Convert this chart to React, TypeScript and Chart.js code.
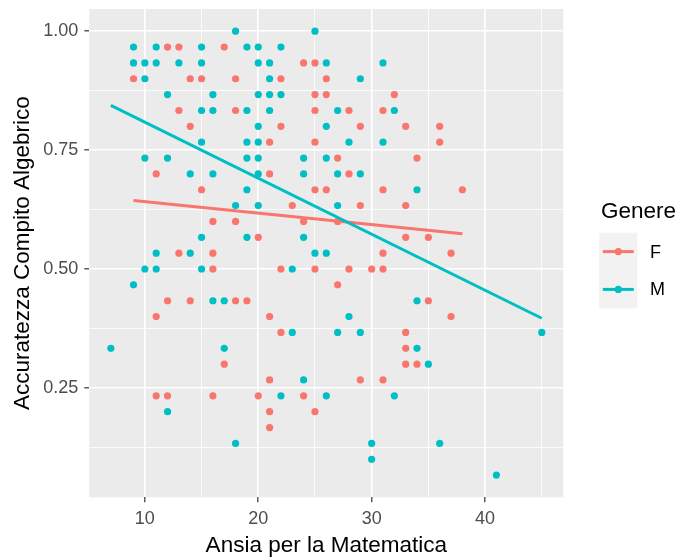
import React, { useEffect, useRef } from "react";
import { Chart, registerables } from "chart.js";
Chart.register(...registerables);

// Ansia per la Matematica (x) and Accuratezza Compito Algebrico (y), gruppo F
const F_ANSIA = [
  12, 13, 17,
  24, 25,
  9, 14, 15, 18, 22, 26,
  25, 26, 32,
  13, 18, 25, 28, 31,
  14, 22, 29, 33, 36,
  21, 25, 36,
  27, 34,
  11, 21, 28,
  15, 25, 26, 31, 38,
  23, 29, 33,
  16, 18, 24, 27,
  20, 33, 35,
  13, 16, 31, 37,
  16, 22, 25, 28, 30, 31,
  27,
  12, 14, 18, 19, 35,
  11, 21, 37,
  22, 33,
  33,
  17, 33, 34,
  21, 29, 31,
  11, 12, 16, 20, 24,
  21, 25,
  21,
];
const F_ACC = [
  0.9667, 0.9667, 0.9667,
  0.9333, 0.9333,
  0.9, 0.9, 0.9, 0.9, 0.9, 0.9,
  0.8667, 0.8667, 0.8667,
  0.8333, 0.8333, 0.8333, 0.8333, 0.8333,
  0.8, 0.8, 0.8, 0.8, 0.8,
  0.7667, 0.7667, 0.7667,
  0.7333, 0.7333,
  0.7, 0.7, 0.7,
  0.6667, 0.6667, 0.6667, 0.6667, 0.6667,
  0.6333, 0.6333, 0.6333,
  0.6, 0.6, 0.6, 0.6,
  0.5667, 0.5667, 0.5667,
  0.5333, 0.5333, 0.5333, 0.5333,
  0.5, 0.5, 0.5, 0.5, 0.5, 0.5,
  0.4667,
  0.4333, 0.4333, 0.4333, 0.4333, 0.4333,
  0.4, 0.4, 0.4,
  0.3667, 0.3667,
  0.3333,
  0.3, 0.3, 0.3,
  0.2667, 0.2667, 0.2667,
  0.2333, 0.2333, 0.2333, 0.2333, 0.2333,
  0.2, 0.2,
  0.1667,
];

// gruppo M
const M_ANSIA = [
  18, 25,
  9, 11, 15, 19, 20, 22,
  9, 10, 11, 13, 15, 20, 21, 26, 31,
  10, 21, 29,
  12, 16, 20, 21, 22,
  15, 16, 19, 21, 27, 32,
  20, 26,
  15, 19, 20, 28, 31,
  10, 12, 19, 20, 24, 26,
  14, 16, 20, 24, 27, 29,
  19, 34,
  18, 20, 27,
  15, 19, 24,
  11, 14, 25, 26,
  10, 11, 15, 23,
  9,
  16, 17, 34,
  28,
  23, 27, 29, 45,
  7, 17, 34,
  35,
  24,
  22, 26, 32,
  12,
  18, 30, 36,
  30,
  41,
];
const M_ACC = [
  1.0, 1.0,
  0.9667, 0.9667, 0.9667, 0.9667, 0.9667, 0.9667,
  0.9333, 0.9333, 0.9333, 0.9333, 0.9333, 0.9333, 0.9333, 0.9333, 0.9333,
  0.9, 0.9, 0.9,
  0.8667, 0.8667, 0.8667, 0.8667, 0.8667,
  0.8333, 0.8333, 0.8333, 0.8333, 0.8333, 0.8333,
  0.8, 0.8,
  0.7667, 0.7667, 0.7667, 0.7667, 0.7667,
  0.7333, 0.7333, 0.7333, 0.7333, 0.7333, 0.7333,
  0.7, 0.7, 0.7, 0.7, 0.7, 0.7,
  0.6667, 0.6667,
  0.6333, 0.6333, 0.6333,
  0.5667, 0.5667, 0.5667,
  0.5333, 0.5333, 0.5333, 0.5333,
  0.5, 0.5, 0.5, 0.5,
  0.4667,
  0.4333, 0.4333, 0.4333,
  0.4,
  0.3667, 0.3667, 0.3667, 0.3667,
  0.3333, 0.3333, 0.3333,
  0.3,
  0.2667,
  0.2333, 0.2333, 0.2333,
  0.2,
  0.1333, 0.1333, 0.1333,
  0.1,
  0.0667,
];

// linear-fit lines (geom_smooth, method = "lm"), endpoints
const F_FIT_X = [9, 38];
const F_FIT_Y = [0.644, 0.574];
const M_FIT_X = [7, 45];
const M_FIT_Y = [0.844, 0.3965];

const GROUPS = ["F", "M"];
const COLORS = ["#F8766D", "#00BFC4"];
const X_MAJOR = [10, 20, 30, 40];
const X_MINOR = [15, 25, 35, 45];
const Y_MAJOR = [0.25, 0.5, 0.75, 1.0];
const Y_MINOR = [0.125, 0.375, 0.625, 0.875];

const X_TITLE = "Ansia per la Matematica";
const Y_TITLE = "Accuratezza Compito Algebrico";
const LEGEND_TITLE = "Genere";

const FONT = "'Liberation Sans', Arial, sans-serif";

function toPoints(xs: number[], ys: number[]) {
  return xs.map((x, i) => ({ x, y: ys[i] }));
}

const PANEL = { left: 89.3, right: 563.3, top: 9, bottom: 497.3 };
const W = 681;
const H = 560;

const panelBg = {
  id: "panelBg",
  beforeDraw(chart: any) {
    const { ctx, chartArea: a } = chart;
    ctx.save();
    ctx.fillStyle = "#EBEBEB";
    ctx.fillRect(a.left, a.top, a.right - a.left, a.bottom - a.top);
    ctx.restore();
  },
};

const ggLegend = {
  id: "ggLegend",
  afterDraw(chart: any) {
    const { ctx } = chart;
    ctx.save();
    ctx.fillStyle = "#000000";
    ctx.textAlign = "left";
    ctx.textBaseline = "middle";
    ctx.font = `22.5px ${FONT}`;
    ctx.fillText(LEGEND_TITLE, 601, 212);
    const keyX = 599.3;
    const keyW = 38;
    const keyH = 37.8;
    const top0 = 232.7;
    GROUPS.forEach((g, i) => {
      const top = top0 + i * keyH;
      const cy = top + keyH / 2;
      ctx.fillStyle = "#F2F2F2";
      ctx.fillRect(keyX, top, keyW, keyH);
      ctx.strokeStyle = COLORS[i];
      ctx.lineWidth = 3;
      ctx.beginPath();
      ctx.moveTo(keyX + 3.5, cy);
      ctx.lineTo(keyX + keyW - 3.5, cy);
      ctx.stroke();
      ctx.fillStyle = COLORS[i];
      ctx.beginPath();
      ctx.arc(keyX + keyW / 2, cy, 3.6, 0, Math.PI * 2);
      ctx.fill();
      ctx.fillStyle = "#000000";
      ctx.font = `18px ${FONT}`;
      ctx.fillText(g, 650, cy + 1);
    });
    ctx.restore();
  },
};

export default function App() {
  const ref = useRef<HTMLCanvasElement>(null);

  useEffect(() => {
    if (!ref.current) return;
    const groupsX = [F_ANSIA, M_ANSIA];
    const groupsY = [F_ACC, M_ACC];
    const fitX = [F_FIT_X, M_FIT_X];
    const fitY = [F_FIT_Y, M_FIT_Y];

    const pointSets = GROUPS.map((g, i) => ({
      label: g,
      data: toPoints(groupsX[i], groupsY[i]),
      backgroundColor: COLORS[i],
      borderColor: COLORS[i],
      borderWidth: 0,
      pointRadius: 3.6,
      pointHoverRadius: 3.6,
      showLine: false,
      order: 3 - i,
    }));
    const lineSets = GROUPS.map((g, i) => ({
      label: g + " lm",
      data: toPoints(fitX[i], fitY[i]),
      borderColor: COLORS[i],
      backgroundColor: COLORS[i],
      borderWidth: 3,
      pointRadius: 0,
      showLine: true,
      fill: false,
      order: 1 - i,
    }));

    const isMajorX = (v: number) => X_MAJOR.includes(v);
    const isMajorY = (v: number) => Y_MAJOR.some((m) => Math.abs(m - v) < 1e-9);

    const chart = new Chart(ref.current, {
      type: "scatter",
      data: { datasets: [...pointSets, ...lineSets] as any },
      options: {
        animation: false,
        responsive: false,
        events: [],
        layout: {
          padding: { left: 0, top: PANEL.top, right: W - PANEL.right, bottom: 0 },
        },
        plugins: {
          legend: { display: false },
          tooltip: { enabled: false },
        },
        scales: {
          x: {
            type: "linear",
            min: 5.1,
            max: 46.9,
            afterBuildTicks: (s: any) => {
              s.ticks = [...X_MAJOR, ...X_MINOR]
                .sort((a, b) => a - b)
                .map((v) => ({ value: v }));
            },
            afterFit: (s: any) => {
              s.height = H - PANEL.bottom;
              s.paddingLeft = 0;
              s.paddingRight = 0;
              s.paddingTop = 0;
              s.paddingBottom = 0;
            },
            ticks: {
              autoSkip: false,
              maxRotation: 0,
              padding: 6,
              color: "#4D4D4D",
              font: { size: 18, family: FONT },
              callback: (v: any) => (isMajorX(Number(v)) ? String(v) : ""),
            },
            grid: {
              color: "#FFFFFF",
              lineWidth: (c: any) => (c.tick && isMajorX(c.tick.value) ? 1.6 : 0.8),
              tickLength: 5,
              tickWidth: 1.2,
              tickColor: (c: any) =>
                c.tick && isMajorX(c.tick.value) ? "#333333" : "rgba(0,0,0,0)",
            },
            border: { display: false },
            title: {
              display: true,
              text: X_TITLE,
              color: "#000000",
              font: { size: 22.5, family: FONT },
              padding: { top: 0, bottom: 1 },
            },
          },
          y: {
            type: "linear",
            min: 0.02,
            max: 1.0467,
            afterBuildTicks: (s: any) => {
              s.ticks = [...Y_MAJOR, ...Y_MINOR]
                .sort((a, b) => a - b)
                .map((v) => ({ value: v }));
            },
            afterFit: (s: any) => {
              s.width = PANEL.left;
              s.paddingLeft = 0;
              s.paddingRight = 0;
              s.paddingTop = 0;
              s.paddingBottom = 0;
            },
            ticks: {
              autoSkip: false,
              padding: 6,
              color: "#4D4D4D",
              font: { size: 18, family: FONT },
              callback: (v: any) => (isMajorY(Number(v)) ? Number(v).toFixed(2) : ""),
            },
            grid: {
              color: "#FFFFFF",
              lineWidth: (c: any) => (c.tick && isMajorY(c.tick.value) ? 1.6 : 0.8),
              tickLength: 5,
              tickWidth: 1.2,
              tickColor: (c: any) =>
                c.tick && isMajorY(c.tick.value) ? "#333333" : "rgba(0,0,0,0)",
            },
            border: { display: false },
            title: {
              display: true,
              text: Y_TITLE,
              color: "#000000",
              font: { size: 22.5, family: FONT },
              padding: { top: 9, bottom: 0 },
            },
          },
        },
      },
      plugins: [panelBg, ggLegend],
    });
    return () => chart.destroy();
  }, []);

  return (
    <div style={{ position: "absolute", left: 0, top: 0, width: W, height: H, background: "#FFFFFF" }}>
      <canvas ref={ref} width={W} height={H} style={{ display: "block" }} />
    </div>
  );
}
